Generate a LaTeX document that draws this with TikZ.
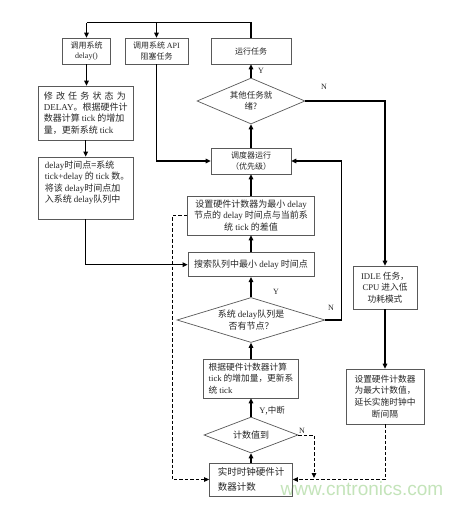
\documentclass[tikz,border=0pt]{standalone}
\usepackage{fontspec}
\setmainfont{Liberation Serif}
\newfontfamily\cjk{Noto Sans CJK SC}
\newfontfamily\wmfont{Liberation Sans}
\usetikzlibrary{arrows.meta,shapes.geometric}
\newcommand\en[1]{{\rmfamily #1}}
\newcommand\fA{\cjk\fontsize{8}{10.7}\selectfont}
\newcommand\fB{\cjk\fontsize{9}{11.3}\selectfont}
\newcommand\fBs{\cjk\fontsize{8.7}{11.3}\selectfont}
\newcommand\fI{\cjk\fontsize{8.7}{11.8}\selectfont}
\newcommand\fC{\cjk\fontsize{9.5}{15}\selectfont}
\definecolor{wmgreen}{RGB}{196,228,186}
\tikzset{
  box/.style={draw=black!65, line width=0.7pt, rectangle, inner sep=0pt, text=black!85, font=\fB, align=center},
  dia/.style={draw=black!65, line width=0.7pt, diamond, inner sep=0pt, text=black!85, font=\fB, align=center},
  arr/.style={-{Triangle[length=5pt,width=4.5pt]}, line width=1.4pt, black},
  ln/.style={line width=1.4pt, black},
  dsh/.style={arr, line width=1pt, dash pattern=on 3.5pt off 2pt},
  lab/.style={font=\rmfamily\fontsize{8}{9}\selectfont, text=black!85, inner sep=0pt},
}
\begin{document}
\begin{tikzpicture}[x=1pt,y=-1pt]
\useasboundingbox (0,0) rectangle (465,505);
\fill[white] (0,0) rectangle (465,505);
\node[font=\wmfont\fontsize{19}{20}\selectfont, text=wmgreen, inner sep=0pt] (wm) at (362,489) {www.cntronics.com};
% top row
\node[box, font=\fA, minimum width=48pt, minimum height=26pt] (delayc) at (86.5,51) {调用系统\\\en{delay()}};
\node[box, font=\fA, minimum width=63pt, minimum height=26pt] (api) at (156.5,51) {调用系统 \en{API}\\阻塞任务};
\node[box, font=\fA, minimum width=80pt, minimum height=26pt] (run) at (251,51) {运行任务};
% left column
\node[box, align=left, minimum width=95pt, minimum height=54pt] (mod) at (85.7,113) {\hbox to 82pt{修\hfill 改\hfill 任\hfill 务\hfill 状\hfill 态\hfill 为}\\\en{DELAY}。根据硬件计\\数器计算 \en{tick} 的增加\\量，更新系统 \en{tick}};
\node[box, minimum width=95pt, minimum height=62pt] (dq) at (85.7,188) {};
\node[box, draw=none, align=left, anchor=north west] (dqt) at (44.5,160.5) {\en{delay}时间点=系统\\\en{tick+delay} 的 \en{tick} 数。\\将该 \en{delay}时间点加\\入系统 \en{delay}队列中};
% centre column
\node[dia, font=\cjk\fontsize{8.5}{11}\selectfont, aspect=2.35, minimum width=108pt, minimum height=46pt] (d1) at (251,101) {其他任务就\\绪?};
\node[box, font=\fA, minimum width=80pt, minimum height=26pt] (sched) at (251,161) {调度器运行\\（优先级）};
\node[box, minimum width=127pt, minimum height=39pt] (setmin) at (251,215.5) {设置硬件计数器为最小 \en{delay}\\节点的 \en{delay} 时间点与当前系\\统 \en{tick} 的差值};
\node[box, minimum width=126pt, minimum height=24pt] (search) at (251,264.7) {搜索队列中最小 \en{delay} 时间点};
\node[dia, aspect=3.29, minimum width=148pt, minimum height=45pt] (d2) at (251,320) {系统 \en{delay}队列是\\否有节点？};
\node[box, font=\fBs, align=left, minimum width=95pt, minimum height=39pt] (upd) at (251,378.5) {根据硬件计数器计算\\\en{tick} 的增加量，更新系\\统 \en{tick}};
\node[dia, aspect=2.6, minimum width=94pt, minimum height=36pt] (d3) at (251,435) {计数值到};
\node[box, font=\fC, align=left, minimum width=83pt, minimum height=33pt] (rtc) at (251,479.5) {实时时钟硬件计\\数器计数};
% right column
\node[box, font=\fI, minimum width=64pt, minimum height=43pt] (idle) at (385,287.5) {\en{IDLE} 任务，\\\en{CPU} 进入低\\功耗模式};
\node[box, font=\fI, minimum width=78pt, minimum height=55pt] (setmax) at (385,396.5) {设置硬件计数器\\为最大计数值，\\延长实施时钟中\\断间隔};
% labels
\node[lab] (y1) at (261,71) {Y};
\node[lab] (n1) at (324,87) {N};
\node[lab] (y2) at (276,292) {Y};
\node[lab] (n2l) at (331,308) {N};
\node[lab, font=\cjk\fontsize{8.5}{9}\selectfont] (y3) at (272,410.7) {\en{Y},中断};
\node[lab] (n3l) at (302,430.7) {N};
% connectors
\coordinate (tl) at (86.5,22.7);
\draw[ln] (run.north) |- (tl);
\draw[arr] (tl) -- (delayc.north);
\draw[arr] (tl -| api.north) -- (api.north);
\draw[arr] (delayc.south) -- (delayc.south |- mod.north);
\draw[arr] (mod.south) -- (dq.north);
\draw[arr] (dq.south) |- (search.west);
\draw[arr] (api.south) |- (sched.west);
\draw[arr] (sched.north) -- (d1.south);
\draw[arr] (d1.north) -- (run.south);
\draw[arr] (d1.east) -| (idle.north);
\draw[arr] (idle.south) -- (setmax.north);
\draw[arr] (setmin.north) -- (sched.south);
\draw[arr] (search.north) -- (setmin.south);
\draw[arr] (d2.north) -- (search.south);
\coordinate (n2) at (341.7,320);
\draw[arr] (d2.east) -- (n2) |- (sched.east);
\draw[arr] (upd.north) -- (d2.south);
\draw[arr] (d3.north) -- (upd.south);
\draw[arr] (rtc.north) -- (d3.south);
\coordinate (n3) at (314,478);
\draw[dsh] (d3.east) -| (n3);
\draw[dsh] (setmax.south) |- (rtc.east);
\coordinate (lx) at (172.3,0);
\draw[dsh] (setmin.west) -| (lx |- rtc.west) -- (rtc.west);
\end{tikzpicture}
\end{document}
